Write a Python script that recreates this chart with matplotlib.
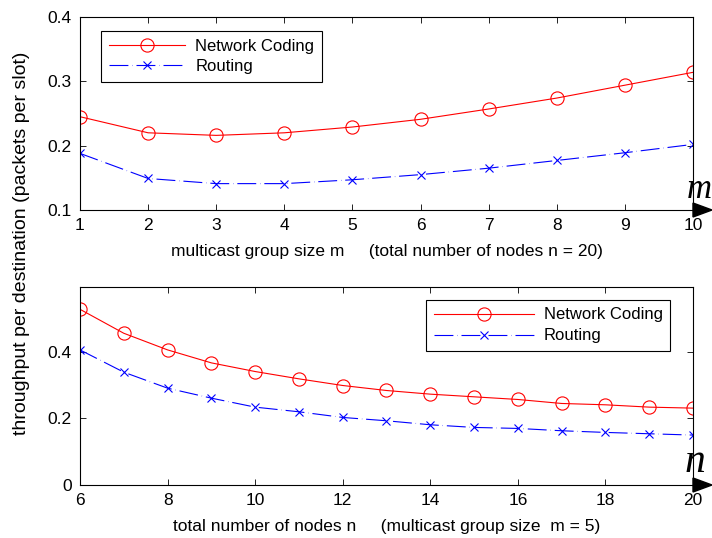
import numpy as np
import matplotlib
matplotlib.use("Agg")
import matplotlib.pyplot as plt
from matplotlib.patches import Polygon

plt.rcParams['font.family'] = ['Liberation Sans', 'DejaVu Sans']

# top panel: varying multicast group size m (n = 20)
m_vals = [1, 2, 3, 4, 5, 6, 7, 8, 9, 10]
nc_m = [0.245, 0.220, 0.216, 0.220, 0.229, 0.241, 0.257, 0.274, 0.294, 0.314]
rt_m = [0.188, 0.149, 0.141, 0.141, 0.147, 0.155, 0.165, 0.177, 0.189, 0.202]

# bottom panel: varying total number of nodes n (m = 5)
n_vals = [6, 7, 8, 9, 10, 11, 12, 13, 14, 15, 16, 17, 18, 19, 20]
nc_n = [0.528, 0.456, 0.406, 0.367, 0.341, 0.319, 0.299, 0.284, 0.273, 0.265,
        0.257, 0.245, 0.241, 0.234, 0.231]
rt_n = [0.406, 0.339, 0.291, 0.261, 0.234, 0.220, 0.203, 0.193, 0.181, 0.173,
        0.170, 0.163, 0.158, 0.154, 0.150]

W, H = 712, 538
fig = plt.figure(figsize=(W / 100, H / 100), dpi=100)
ax1 = fig.add_axes([80 / W, 1 - 210 / H, 613 / W, 193 / H])
ax2 = fig.add_axes([80 / W, 1 - 485 / H, 613 / W, 198 / H])

dash = (0, (17, 3.5, 0.3, 3.5))


def draw(ax, x, nc, rt, xlim, ylim, yticks, xticks, xlabel, leg_loc, leg_xy,
         hl, arrow_lab, lab_xy):
    ax.plot(x, nc, color='red', lw=0.8, marker='o', ms=9.5, mfc='none',
            mec='red', mew=0.8, label='Network Coding')
    ax.plot(x, rt, color='blue', lw=0.8, linestyle=dash, marker='x', ms=6,
            mew=0.8, label='Routing')
    ax.set_xlim(*xlim)
    ax.set_ylim(*ylim)
    ax.set_xticks(xticks)
    ax.set_yticks(yticks)
    ax.set_yticklabels([('%g' % t) for t in yticks])
    ax.tick_params(direction='in', top=True, right=True, labelsize=12.5,
                   length=4, width=0.6, pad=6)
    for s in ax.spines.values():
        s.set_linewidth(0.8)
    ax.set_xlabel(xlabel, fontsize=12.5, labelpad=8)
    leg = ax.legend(loc=leg_loc, bbox_to_anchor=(leg_xy[0] / W, 1 - leg_xy[1] / H),
                    bbox_transform=fig.transFigure, borderaxespad=0,
                    fontsize=12, fancybox=False, framealpha=1,
                    edgecolor='black', borderpad=0.45, handlelength=hl,
                    handletextpad=0.6, labelspacing=0.35)
    leg.get_frame().set_linewidth(0.8)
    # arrow head at end of x axis
    bb = ax.get_position()
    aw, ah = bb.width * W, bb.height * H
    tri = Polygon([(1.0, 7 / ah), (1.0, -7 / ah), (1 + 19 / aw, 0)],
                  closed=True, transform=ax.transAxes, color='black',
                  clip_on=False)
    ax.add_patch(tri)
    fig.text(lab_xy[0] / W, 1 - lab_xy[1] / H, arrow_lab, fontsize=lab_xy[2],
             family='Liberation Serif', style='italic', ha='left',
             va='baseline')


draw(ax1, m_vals, nc_m, rt_m, (1, 10), (0.1, 0.4), [0.1, 0.2, 0.3, 0.4],
     m_vals, 'multicast group size m     (total number of nodes n = 20)',
     'upper left', (101, 31), 4.6, 'm', (687, 198, 25))
draw(ax2, n_vals, nc_n, rt_n, (6, 20), (0, 0.595), [0, 0.2, 0.4],
     list(range(6, 21, 2)),
     'total number of nodes n     (multicast group size  m = 5)',
     'upper right', (670, 300), 6.0, 'n', (685, 472, 30))

fig.text(22 / W, 1 - 243 / H, 'throughput per destination (packets per slot)',
         rotation=90, ha='center', va='center', fontsize=14)

fig.savefig('out.png', dpi=100)
